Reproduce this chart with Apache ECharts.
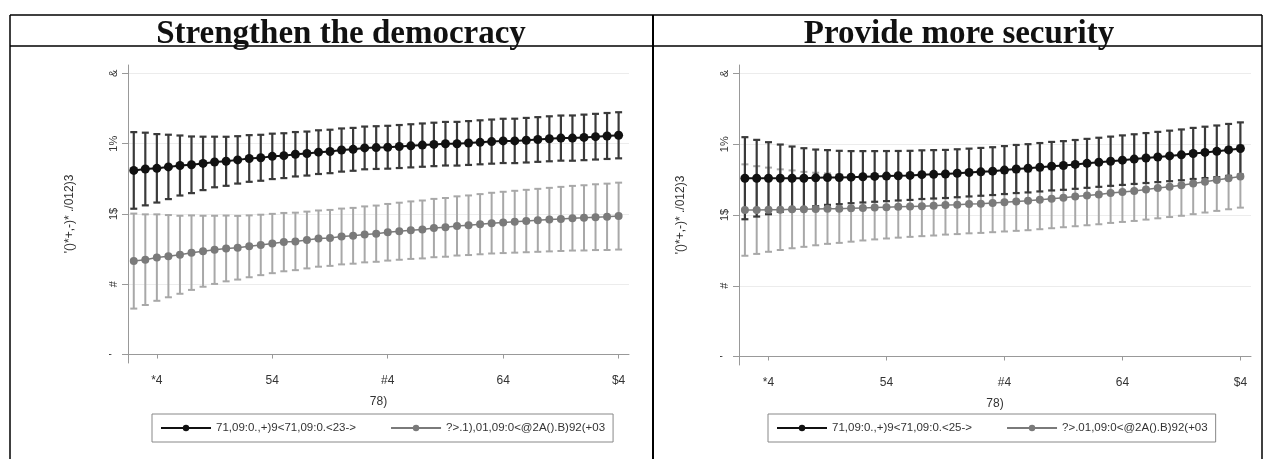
<!DOCTYPE html>
<html><head><meta charset="utf-8">
<script src="https://cdn.jsdelivr.net/npm/echarts@6/dist/echarts.min.js"></script>
<style>html,body{margin:0;padding:0;background:#fff}#c{width:1266px;height:459px}</style>
</head><body><div id="c"></div>
<script>
const titles = ['Strengthen the democracy', 'Provide more security'];
const ages = [18,19,20,21,22,23,24,25,26,27,28,29,30,31,32,33,34,35,36,37,38,39,40,41,42,43,44,45,46,47,48,49,50,51,52,53,54,55,56,57,58,59,60];
const xTickValues = [20, 30, 40, 50, 60];
const xTickLabels = ['*4', '54', '#4', '64', '$4'];
const yTickValues = [0, 1, 2, 3, 4];
const yTickLabels = ["'", '#', '1$', '1%', '&'];
const xTitle = '78)';
const yTitle = "'()*+,-)* ./012)3";
const legendLeft = ['71,09:0.,+)9<71,09:0.<23->', '?>.1),01,09:0<@2A().B)92(+03'];
const legendRight = ['71,09:0.,+)9<71,09:0.<25->', '?>.01,09:0<@2A().B)92(+03'];

const leftBlackMean = [2.62,2.64,2.65,2.67,2.69,2.70,2.72,2.74,2.75,2.77,2.79,2.80,2.82,2.83,2.85,2.86,2.88,2.89,2.91,2.92,2.94,2.945,2.95,2.96,2.97,2.98,2.99,3.00,3.00,3.01,3.02,3.03,3.04,3.04,3.05,3.06,3.07,3.08,3.08,3.09,3.10,3.11,3.12];
const leftBlackHalf = [0.545,0.517,0.487,0.458,0.427,0.403,0.38,0.36,0.349,0.337,0.332,0.327,0.323,0.319,0.316,0.313,0.311,0.309,0.307,0.305,0.304,0.304,0.305,0.306,0.307,0.308,0.309,0.310,0.311,0.312,0.313,0.314,0.315,0.316,0.317,0.318,0.320,0.321,0.322,0.324,0.325,0.327,0.328];
const leftGrayMean = [1.33,1.35,1.38,1.40,1.42,1.45,1.47,1.49,1.51,1.52,1.54,1.56,1.58,1.60,1.61,1.63,1.65,1.66,1.68,1.69,1.71,1.72,1.74,1.755,1.77,1.78,1.80,1.81,1.83,1.84,1.855,1.87,1.88,1.89,1.90,1.91,1.92,1.93,1.94,1.945,1.955,1.96,1.97];
const leftGrayHalf = [0.676,0.645,0.615,0.585,0.555,0.530,0.505,0.485,0.468,0.453,0.440,0.430,0.422,0.415,0.409,0.404,0.400,0.398,0.397,0.397,0.398,0.400,0.403,0.406,0.409,0.412,0.415,0.418,0.421,0.424,0.428,0.432,0.436,0.440,0.444,0.448,0.452,0.456,0.460,0.464,0.468,0.472,0.476];
const rightBlackMean = [2.52,2.52,2.52,2.52,2.52,2.52,2.525,2.53,2.53,2.535,2.54,2.545,2.55,2.555,2.56,2.57,2.575,2.58,2.59,2.60,2.61,2.62,2.635,2.65,2.66,2.675,2.69,2.70,2.715,2.73,2.745,2.76,2.775,2.79,2.805,2.82,2.835,2.85,2.87,2.885,2.90,2.92,2.94];
const rightBlackHalf = [0.58,0.542,0.509,0.476,0.448,0.424,0.40,0.387,0.377,0.368,0.363,0.358,0.354,0.350,0.347,0.344,0.342,0.340,0.339,0.338,0.338,0.338,0.339,0.340,0.341,0.342,0.343,0.344,0.345,0.346,0.347,0.348,0.350,0.351,0.353,0.355,0.357,0.359,0.361,0.363,0.365,0.367,0.369];
const rightGrayMean = [2.07,2.07,2.075,2.075,2.08,2.08,2.085,2.09,2.09,2.095,2.10,2.105,2.11,2.115,2.12,2.125,2.13,2.14,2.145,2.155,2.16,2.17,2.18,2.19,2.20,2.215,2.23,2.245,2.26,2.275,2.29,2.31,2.325,2.34,2.36,2.38,2.40,2.42,2.445,2.47,2.495,2.52,2.545];
const rightGrayHalf = [0.646,0.62,0.595,0.57,0.55,0.53,0.513,0.498,0.484,0.472,0.46,0.45,0.442,0.435,0.429,0.424,0.42,0.417,0.415,0.414,0.413,0.413,0.413,0.414,0.415,0.416,0.417,0.418,0.419,0.42,0.421,0.422,0.423,0.424,0.425,0.427,0.429,0.431,0.433,0.435,0.437,0.439,0.441];

const BLACK = '#111', BLACK_BAR = '#3a3a3a', GRAY = '#7a7a7a', GRAY_BAR = '#a8a8a8';

function ciData(mean, half) {
  return ages.map((a, i) => [a, mean[i] - half[i], mean[i] + half[i]]);
}
function ptData(mean) { return ages.map((a, i) => [a, mean[i]]); }

function ciSeries(idx, mean, half, color, lw, z) {
  return {
    type: 'custom', xAxisIndex: idx, yAxisIndex: idx, z: z, silent: true,
    data: ciData(mean, half),
    renderItem: function (params, api) {
      const x = api.value(0), lo = api.value(1), hi = api.value(2);
      const p1 = api.coord([x, lo]), p2 = api.coord([x, hi]);
      const cw = 3.5;
      const st = { stroke: color, lineWidth: lw };
      return { type: 'group', children: [
        { type: 'line', shape: { x1: p1[0], y1: p1[1], x2: p2[0], y2: p2[1] }, style: st },
        { type: 'line', shape: { x1: p1[0] - cw, y1: p1[1], x2: p1[0] + cw, y2: p1[1] }, style: st },
        { type: 'line', shape: { x1: p2[0] - cw, y1: p2[1], x2: p2[0] + cw, y2: p2[1] }, style: st }
      ]};
    }
  };
}
function lineSeries(idx, name, mean, color, size, lw, z) {
  return {
    type: 'line', name: name, xAxisIndex: idx, yAxisIndex: idx, z: z,
    data: ptData(mean), symbol: 'circle', symbolSize: size, showSymbol: true,
    itemStyle: { color: color }, lineStyle: { color: color, width: lw },
    animation: false
  };
}
const labelMapX = v => xTickLabels[xTickValues.indexOf(v)];
const labelMapY = v => yTickLabels[yTickValues.indexOf(v)];

function xAxis(gi) {
  return {
    type: 'value', gridIndex: gi, min: 17.5, max: 60.9,
    name: xTitle, nameLocation: 'middle', nameGap: 33,
    nameTextStyle: { fontFamily: 'Liberation Sans', fontSize: 12, color: '#333' },
    axisLine: { lineStyle: { color: '#999', width: 1 } },
    axisTick: { show: true, length: 4, lineStyle: { color: '#999' }, customValues: xTickValues },
    axisLabel: { customValues: xTickValues, formatter: labelMapX, fontFamily: 'Liberation Sans', fontSize: 12, color: '#333', margin: 12 },
    splitLine: { show: false }
  };
}
function yAxis(gi) {
  return {
    type: 'value', gridIndex: gi, min: -0.12, max: 4.12,
    name: yTitle, nameLocation: 'middle', nameRotate: 90, nameGap: 52,
    nameTextStyle: { fontFamily: 'Liberation Sans', fontSize: 12, color: '#333' },
    axisLine: { show: true, lineStyle: { color: '#999', width: 1 } },
    axisTick: { show: true, length: 6, lineStyle: { color: '#999' }, customValues: yTickValues },
    axisLabel: { customValues: yTickValues, formatter: labelMapY, rotate: 90, fontFamily: 'Liberation Sans', fontSize: 11, color: '#333', margin: 9 },
    splitLine: { show: true, lineStyle: { color: '#ececec', width: 1 } }
  };
}
function legend(left, names) {
  return {
    left: left, top: 414, orient: 'horizontal', data: names,
    itemWidth: 50, itemHeight: 8, itemGap: 34,
    borderColor: '#888', borderWidth: 1, padding: [8, 8],
    textStyle: { fontFamily: 'Liberation Sans', fontSize: 11.5, color: '#333' },
    selectedMode: false
  };
}

const chart = echarts.init(document.getElementById('c'), null, { renderer: 'canvas' });
chart.setOption({
  animation: false,
  backgroundColor: '#fff',
  title: [
    { text: titles[0], left: 336, top: 13, textAlign: 'center', textStyle: { fontFamily: 'Liberation Serif', fontWeight: 'bold', fontSize: 33, color: '#111' } },
    { text: titles[1], left: 954, top: 13, textAlign: 'center', textStyle: { fontFamily: 'Liberation Serif', fontWeight: 'bold', fontSize: 33, color: '#111' } }
  ],
  grid: [
    { left: 128, top: 65, width: 501, height: 298 },
    { left: 739, top: 65, width: 512, height: 300 }
  ],
  xAxis: [xAxis(0), xAxis(1)],
  yAxis: [yAxis(0), yAxis(1)],
  legend: [legend(152, legendLeft), legend(768, legendRight)],
  series: [
    ciSeries(0, leftGrayMean, leftGrayHalf, GRAY_BAR, 2, 2),
    ciSeries(0, leftBlackMean, leftBlackHalf, BLACK_BAR, 2.2, 3),
    lineSeries(0, legendLeft[0], leftBlackMean, BLACK, 9, 2, 4),
    lineSeries(0, legendLeft[1], leftGrayMean, GRAY, 8, 1.5, 5),
    ciSeries(1, rightGrayMean, rightGrayHalf, GRAY_BAR, 2, 2),
    ciSeries(1, rightBlackMean, rightBlackHalf, BLACK_BAR, 2.2, 3),
    lineSeries(1, legendRight[0], rightBlackMean, BLACK, 9, 2, 4),
    lineSeries(1, legendRight[1], rightGrayMean, GRAY, 8, 1.5, 5)
  ],
  graphic: [
    { type: 'line', shape: { x1: 10, y1: 15, x2: 1262, y2: 15 }, style: { stroke: '#000', lineWidth: 1.5 } },
    { type: 'line', shape: { x1: 10, y1: 46, x2: 1262, y2: 46 }, style: { stroke: '#000', lineWidth: 1.5 } },
    { type: 'line', shape: { x1: 10, y1: 15, x2: 10, y2: 459 }, style: { stroke: '#000', lineWidth: 1.5 } },
    { type: 'line', shape: { x1: 653, y1: 15, x2: 653, y2: 459 }, style: { stroke: '#000', lineWidth: 2 } },
    { type: 'line', shape: { x1: 1262, y1: 15, x2: 1262, y2: 459 }, style: { stroke: '#000', lineWidth: 1.5 } }
  ]
});
</script></body></html>
